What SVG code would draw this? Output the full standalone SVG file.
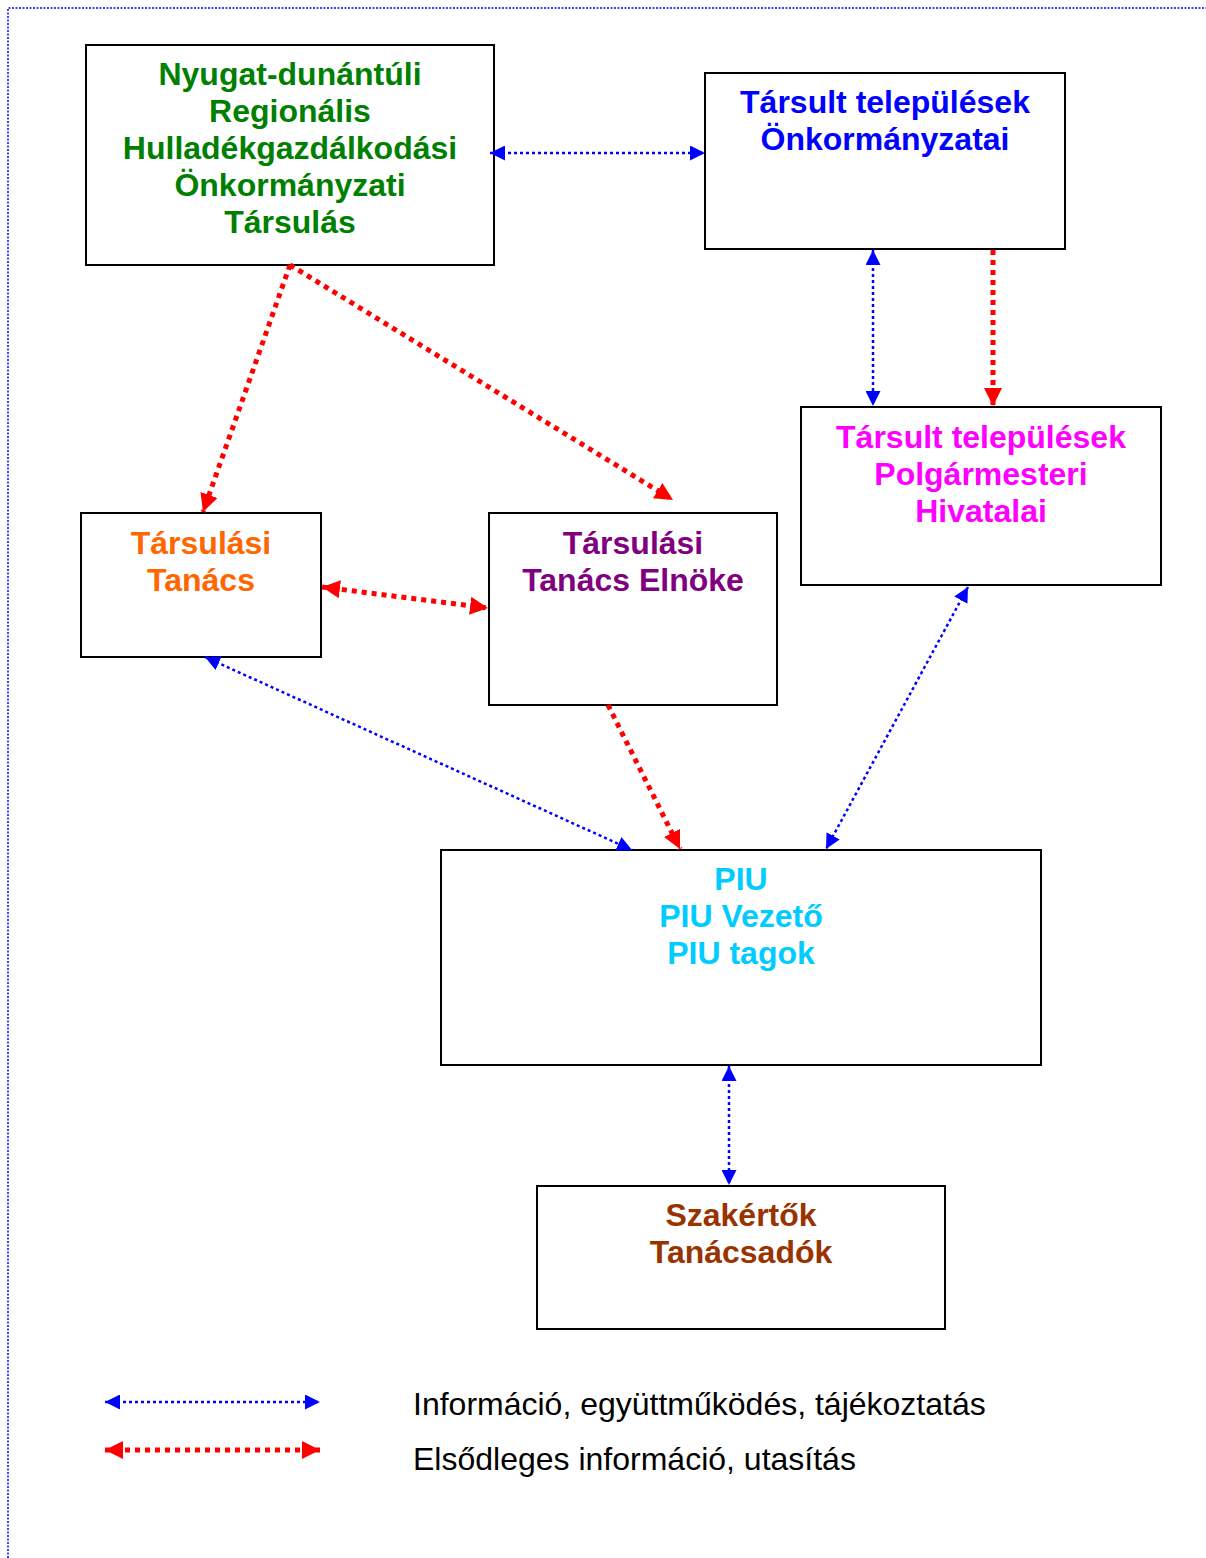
<svg xmlns="http://www.w3.org/2000/svg" width="1206" height="1558" viewBox="0 0 1206 1558">
<style>
.box{fill:#fff;stroke:#000;stroke-width:2}
.t{font-family:"Liberation Sans",Arial,sans-serif;font-weight:bold;font-size:32px;text-anchor:middle}
.lg{font-family:"Liberation Sans",Arial,sans-serif;font-size:32px;fill:#000}
.info{stroke:#0000FF;stroke-width:2.5;stroke-dasharray:3 3;fill:none}
.prim{stroke:#FF0000;stroke-width:5;stroke-dasharray:5 5;fill:none}
.bi{marker-start:url(#bh);marker-end:url(#bh)}
.be{marker-end:url(#bh)}
.ri{marker-start:url(#rh);marker-end:url(#rh)}
.re{marker-end:url(#rh)}
</style>
<defs>
<marker id="bh" markerUnits="userSpaceOnUse" markerWidth="15" markerHeight="15" refX="15" refY="7.5" orient="auto-start-reverse"><path d="M0,0 L15,7.5 L0,15 z" fill="#0000FF"/></marker>
<marker id="rh" markerUnits="userSpaceOnUse" markerWidth="18" markerHeight="18" refX="18" refY="9" orient="auto-start-reverse"><path d="M0,0 L18,9 L0,18 z" fill="#FF0000"/></marker>
</defs>
<rect width="1206" height="1558" fill="#fff"/>
<path d="M8,1558 L8,8 L1206,8" fill="none" stroke="#0000FF" stroke-width="1.5" stroke-dasharray="2 1.5"/>

<g id="n-tarsulas">
<rect class="box" x="86" y="45" width="408" height="220"/>
<text class="t" fill="#008000"><tspan x="290" y="85">Nyugat-dunántúli</tspan><tspan x="290" y="122">Regionális</tspan><tspan x="290" y="159">Hulladékgazdálkodási</tspan><tspan x="290" y="196">Önkormányzati</tspan><tspan x="290" y="233">Társulás</tspan></text>
</g>
<g id="n-onkormanyzatok">
<rect class="box" x="705" y="73" width="360" height="176"/>
<text class="t" fill="#0000FF"><tspan x="885" y="113">Társult települések</tspan><tspan x="885" y="150">Önkormányzatai</tspan></text>
</g>
<g id="n-hivatalok">
<rect class="box" x="801" y="407" width="360" height="178"/>
<text class="t" fill="#FF00FF"><tspan x="981" y="448">Társult települések</tspan><tspan x="981" y="485">Polgármesteri</tspan><tspan x="981" y="522">Hivatalai</tspan></text>
</g>
<g id="n-tanacs">
<rect class="box" x="81" y="513" width="240" height="144"/>
<text class="t" fill="#FF6600"><tspan x="201" y="554">Társulási</tspan><tspan x="201" y="591">Tanács</tspan></text>
</g>
<g id="n-elnok">
<rect class="box" x="489" y="513" width="288" height="192"/>
<text class="t" fill="#800080"><tspan x="633" y="554">Társulási</tspan><tspan x="633" y="591">Tanács Elnöke</tspan></text>
</g>
<g id="n-piu">
<rect class="box" x="441" y="850" width="600" height="215"/>
<text class="t" fill="#00CCFF"><tspan x="741" y="890">PIU</tspan><tspan x="741" y="927">PIU Vezető</tspan><tspan x="741" y="964">PIU tagok</tspan></text>
</g>
<g id="n-szakertok">
<rect class="box" x="537" y="1186" width="408" height="143"/>
<text class="t" fill="#993300"><tspan x="741" y="1226">Szakértők</tspan><tspan x="741" y="1263">Tanácsadók</tspan></text>
</g>

<g id="connectors">
<line class="info bi" x1="490" y1="153" x2="705" y2="153"/>
<line class="prim re" x1="290" y1="265" x2="203" y2="512"/>
<line class="prim re" x1="290" y1="265" x2="673" y2="500"/>
<line class="info bi" x1="873" y1="250" x2="873" y2="406"/>
<line class="prim re" x1="993" y1="250" x2="993" y2="406"/>
<line class="prim ri" x1="322" y1="587" x2="488" y2="608"/>
<line class="info bi" x1="205" y1="657" x2="632" y2="850"/>
<line class="prim re" x1="608" y1="705" x2="680" y2="849"/>
<line class="info bi" x1="968" y1="587" x2="826" y2="849"/>
<line class="info bi" x1="729" y1="1066" x2="729" y2="1185"/>
</g>

<g id="legend">
<line class="info bi" x1="105" y1="1402" x2="320" y2="1402"/>
<line class="prim ri" x1="105" y1="1450" x2="320" y2="1450"/>
<text class="lg" x="413" y="1415">Információ, együttműködés, tájékoztatás</text>
<text class="lg" x="413" y="1470">Elsődleges információ, utasítás</text>
</g>
</svg>
